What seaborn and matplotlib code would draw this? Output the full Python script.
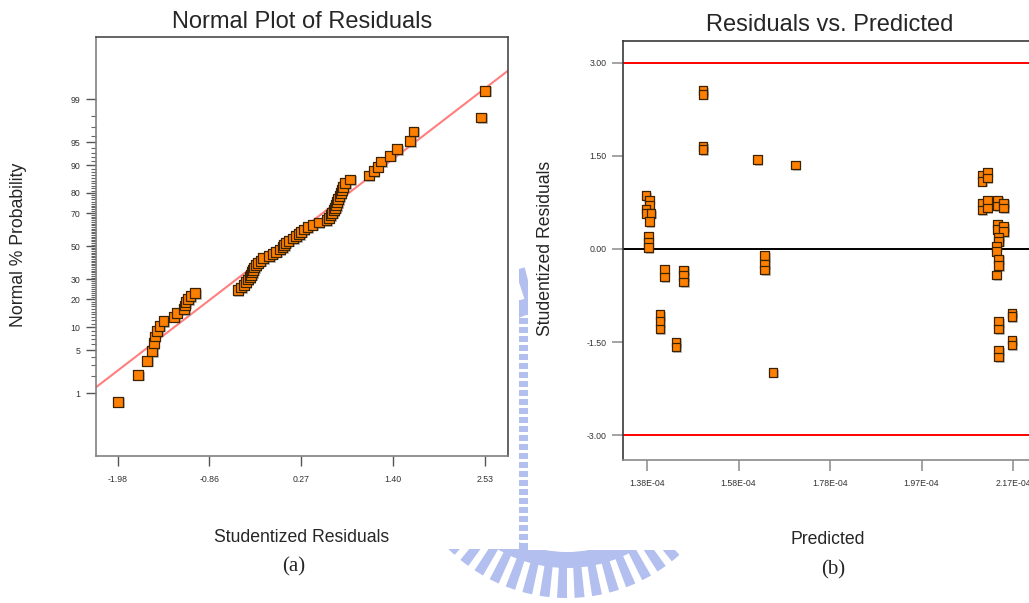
import numpy as np
import pandas as pd
import matplotlib
matplotlib.use("Agg")
import matplotlib.pyplot as plt
import seaborn as sns
from matplotlib.patches import Rectangle, Wedge
from matplotlib import patheffects as pe
from statistics import NormalDist

# ---------------- data ----------------
# (a) sorted studentized residuals for the normal probability plot
normal_residuals = [
    -1.98, -1.73, -1.62, -1.56, -1.54, -1.53, -1.50, -1.47, -1.42, -1.29,
    -1.26, -1.17, -1.16, -1.15, -1.12, -1.09, -1.03, -0.51, -0.465, -0.435,
    -0.41, -0.385, -0.36, -0.345, -0.335, -0.32, -0.305, -0.287, -0.262, -0.23,
    -0.194, -0.126, -0.083, -0.04, 0.007, 0.04, 0.06, 0.077, 0.114, 0.17,
    0.207, 0.244, 0.268, 0.30, 0.348, 0.41, 0.484, 0.58, 0.61, 0.63,
    0.65, 0.67, 0.685, 0.70, 0.71, 0.725, 0.74, 0.755, 0.77, 0.785,
    0.81, 0.87, 1.10, 1.16, 1.21, 1.25, 1.36, 1.45, 1.61, 1.65, 2.48, 2.53,
]
fit_slope = 0.99
fit_intercept = -0.005
normal_xticks = [-1.98, -0.86, 0.27, 1.40, 2.53]
prob_major = [1, 5, 10, 20, 30, 50, 70, 80, 90, 95, 99]

# (b) predicted values (x 1e-4) and studentized residuals
predicted_e4 = [
    1.378, 1.385, 1.385, 1.378, 1.378, 1.388, 1.385, 1.383, 1.383, 1.383,
    1.417, 1.417, 1.459, 1.459, 1.459, 1.408, 1.408, 1.408, 1.442, 1.442,
    1.501, 1.501, 1.501, 1.501, 1.618, 1.700, 1.634, 1.634, 1.634, 1.652,
    2.103, 2.103, 2.115, 2.115, 2.103, 2.103, 2.115, 2.115, 2.137, 2.137,
    2.150, 2.150, 2.137, 2.137, 2.150, 2.150, 2.139, 2.139, 2.134, 2.134,
    2.139, 2.139, 2.134, 2.139, 2.139, 2.168, 2.168, 2.168, 2.168, 2.139,
    2.139,
]
studentized = [
    0.86, 0.79, 0.71, 0.645, 0.575, 0.575, 0.44, 0.20, 0.10, 0.02,
    -0.33, -0.45, -0.34, -0.43, -0.53, -1.06, -1.17, -1.29, -1.50, -1.58,
    2.55, 2.49, 1.65, 1.60, 1.44, 1.35, -0.11, -0.24, -0.34, -1.99,
    1.19, 1.09, 1.23, 1.14, 0.74, 0.63, 0.78, 0.66, 0.79, 0.69,
    0.74, 0.66, 0.40, 0.31, 0.36, 0.28, 0.19, 0.12, 0.04, -0.04,
    -0.16, -0.27, -0.42, -1.17, -1.29, -1.04, -1.09, -1.47, -1.55, -1.63,
    -1.74,
]
pred_tick_labels = ["1.38E-04", "1.58E-04", "1.78E-04", "1.97E-04", "2.17E-04"]
limit_lines = [3.0, -3.0]
resid_ticks = [-3.0, -1.5, 0.0, 1.5, 3.0]

# ---------------- style ----------------
sns.set_theme(style="white")
plt.rcParams["font.family"] = ["Liberation Sans", "DejaVu Sans"]

ORANGE = "#ff8000"
EDGE = "#3b2200"
shadow = [pe.SimplePatchShadow(offset=(1.2, -1.2), shadow_rgbFace="#8c8c8c", alpha=0.55),
          pe.Normal()]

W, H = 1029, 603
fig = plt.figure(figsize=(W / 100, H / 100), dpi=100)
fig.patch.set_facecolor("white")


def px_rect(x0, y0, x1, y1):
    """figure-fraction rectangle from pixel corners (top-left origin)"""
    return [x0 / W, 1 - y1 / H, (x1 - x0) / W, (y1 - y0) / H]


# faint seal behind the two panels
wm_color = "#b3bfee"
seal_ax = fig.add_axes([0, 0, 1, 1], zorder=-3)
seal_ax.set_xlim(0, W)
seal_ax.set_ylim(H, 0)
seal_ax.axis("off")
seal_ax.add_patch(Wedge((567, 430), 138, 0, 360, width=16, color=wm_color, lw=0))
for ang in np.arange(0, 360, 6.0):
    seal_ax.add_patch(Wedge((567, 430), 168, ang, ang + 3.4, width=32, color=wm_color, lw=0))
for yy in np.arange(300, 550, 9):
    seal_ax.add_patch(Rectangle((519, yy), 9, 6, color=wm_color, lw=0))
# white panels carrying each chart
seal_ax.add_patch(Rectangle((0, 0), 519, 549, color="white", lw=0, zorder=3))
seal_ax.add_patch(Rectangle((528, 0), 501, 550, color="white", lw=0, zorder=3))

# ---------------- (a) normal plot ----------------
ax1 = fig.add_axes(px_rect(96, 37, 508, 456))
n = len(normal_residuals)
nd = NormalDist()
prob = [(i + 0.5) / n for i in range(n)]
df_a = pd.DataFrame({"resid": normal_residuals,
                     "z": [nd.inv_cdf(p) for p in prob]})
ax1.set_xlim(-2.25, 2.81)
ax1.set_ylim(-3.32, 3.31)
xl = np.array(ax1.get_xlim())
sns.lineplot(x=xl, y=fit_slope * xl + fit_intercept, ax=ax1,
             color="#ff7f7f", lw=1.5, zorder=2)
sns.scatterplot(data=df_a, x="resid", y="z", ax=ax1, marker="s", s=50,
                color=ORANGE, edgecolor=EDGE, linewidth=0.9, zorder=3)
ax1.collections[-1].set_path_effects(shadow)

ax1.set_xticks(normal_xticks)
ax1.set_xticklabels([f"{v:.2f}" for v in normal_xticks])
ax1.set_yticks([nd.inv_cdf(p / 100) for p in prob_major])
ax1.set_yticklabels([str(p) for p in prob_major])
minor = [nd.inv_cdf(p / 100) for p in range(1, 100) if p not in prob_major]
ax1.set_yticks(minor, minor=True)
ax1.tick_params(axis="both", which="major", length=7.5, width=1.0, color="#555555",
                labelsize=6.3, labelcolor="#333333", pad=4, direction="out")
ax1.tick_params(axis="y", which="minor", length=3.8, width=0.8, color="#666666",
                direction="out", left=True)
ax1.tick_params(axis="x", pad=6)
ax1.yaxis.set_tick_params(which="both", left=True)
ax1.xaxis.set_tick_params(which="major", bottom=True)
for side, col in [("left", "#808080"), ("bottom", "#808080"),
                  ("top", "#4a4a4a"), ("right", "#4a4a4a")]:
    ax1.spines[side].set_color(col)
    ax1.spines[side].set_linewidth(1.2)

ax1.set_title("Normal Plot of Residuals", fontsize=17, y=1 + 15 / 419, pad=0, va="center")
ax1.set_xlabel("Studentized Residuals", fontsize=12.7, va="center")
ax1.xaxis.set_label_coords(0.5, -(537 - 456) / 419)
ax1.set_ylabel("Normal % Probability", fontsize=12.7, va="center")
ax1.yaxis.set_label_coords((19 - 96) / 412, (456 - 245) / 419)

# ---------------- (b) residuals vs predicted ----------------
ax2 = fig.add_axes(px_rect(623, 41, 1036, 460))
df_b = pd.DataFrame({"pred": np.array(predicted_e4) * 1e-4, "resid": studentized})
ax2.set_xlim(1.328e-4, 2.2196e-4)
ax2.set_ylim(-3.40, 3.35)
for v in limit_lines:
    ax2.axhline(v, color="#ff0000", lw=1.4, zorder=2)
ax2.axhline(0.0, color="black", lw=1.4, zorder=2)
sns.scatterplot(data=df_b, x="pred", y="resid", ax=ax2, marker="s", s=38,
                color=ORANGE, edgecolor=EDGE, linewidth=0.9, zorder=3)
ax2.collections[-1].set_path_effects(shadow)

ax2.set_xticks(np.linspace(1.38e-4, 2.17e-4, len(pred_tick_labels)))
ax2.set_xticklabels(pred_tick_labels)
ax2.set_yticks(resid_ticks)
ax2.set_yticklabels([f"{v:.2f}" for v in resid_ticks])
ax2.tick_params(axis="both", which="major", length=8, width=1.1, color="#8a8a8a",
                labelsize=6.3, labelcolor="#333333", pad=4, direction="out")
ax2.tick_params(axis="x", pad=6)
ax2.yaxis.set_tick_params(left=True)
ax2.xaxis.set_tick_params(bottom=True)
for side, col in [("left", "#3a3a3a"), ("top", "#3a3a3a"),
                  ("bottom", "#8a8a8a"), ("right", "#3a3a3a")]:
    ax2.spines[side].set_color(col)
    ax2.spines[side].set_linewidth(1.2)

ax2.set_title("Residuals vs. Predicted", fontsize=17, y=1 + 16 / 419, pad=0, va="center")
ax2.set_xlabel("Predicted", fontsize=12.7, va="center")
ax2.xaxis.set_label_coords((828 - 623) / 413, -(539 - 460) / 419)
ax2.set_ylabel("Studentized Residuals", fontsize=12.7, va="center")
ax2.yaxis.set_label_coords((546 - 623) / 413, (460 - 248) / 419)

# panel captions
fig.text(294 / W, 1 - 567 / H, "(a)", fontsize=15, ha="center", va="center",
         family=["Liberation Serif", "DejaVu Serif"])
fig.text(833 / W, 1 - 570 / H, "(b)", fontsize=15, ha="center", va="center",
         family=["Liberation Serif", "DejaVu Serif"])

fig.savefig("out.png", dpi=100, facecolor="white")
